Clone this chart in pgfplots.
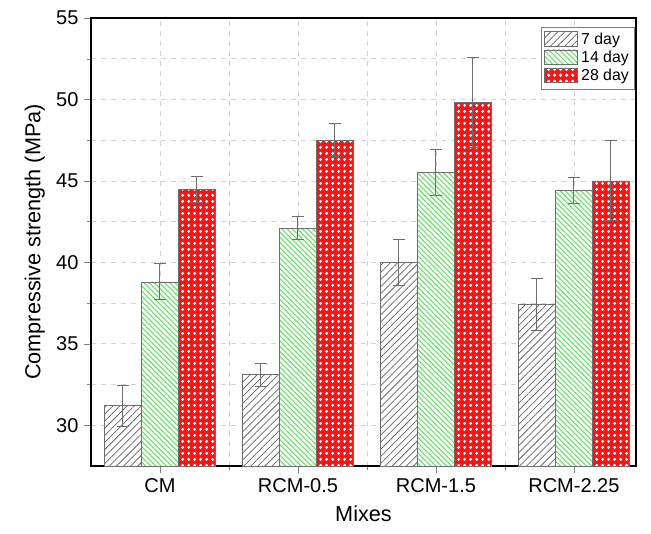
\documentclass[border=0pt]{standalone}
\usepackage{pgfplots}
\pgfplotsset{compat=1.18}
\usepackage{fontspec}
\setmainfont{Liberation Sans}
\usetikzlibrary{patterns,patterns.meta}

\pgfdeclarepattern{
  name=wdots, type=uncolored,
  bottom left={\pgfpoint{0pt}{0pt}}, top right={\pgfpoint{3.6pt}{3.6pt}},
  tile size={\pgfpoint{3.6pt}{3.6pt}},
  code={
    \pgfpathcircle{\pgfpoint{1.8pt}{1.8pt}}{1.15pt}
    \pgfusepath{fill}
  }
}

\definecolor{barline}{RGB}{110,110,110}
\definecolor{lgreen}{RGB}{100,225,100}
\definecolor{bred}{RGB}{250,20,20}

% mix  7d  14d  28d with errors
\pgfplotstableread{
x  d7   e7    d14  e14   d28  e28
1  31.2 1.25  38.8 1.1   44.5 0.8
2  33.1 0.7   42.1 0.7   47.5 1.0
3  40.0 1.4   45.5 1.4   49.8 2.75
4  37.4 1.6   44.4 0.8   45.0 2.45
}\datatable

\begin{document}
\begin{tikzpicture}
\begin{axis}[
  scale only axis,
  width=327pt, height=268.8pt,
  ybar=0pt, bar width=22.2pt,
  xmin=0.5, xmax=4.45,
  ymin=27.5, ymax=55,
  xtick={1,2,3,4},
  xticklabels={CM,RCM-0.5,RCM-1.5,RCM-2.25},
  minor xtick={1.5,2.5,3.5},
  ytick={30,35,...,55},
  minor y tick num=1,
  tick pos=left,
  tick align=outside,
  major tick length=4pt, minor tick length=2.5pt,
  grid=both,
  major grid style={dashed, gray!35},
  minor grid style={dashed, gray!35},
  axis line style={black, line width=0.8pt},
  /pgf/number format/assume math mode=true,
  ticklabel style={font=\fontsize{12}{14}\selectfont},
  xlabel={Mixes},
  ylabel={Compressive strength (MPa)},
  label style={font=\fontsize{13}{15}\selectfont},
  xlabel style={yshift=-1pt},
  legend style={at={(0.998,0.98)}, anchor=north east, draw=gray,
    font=\fontsize{9.5}{11}\selectfont, row sep=-1.5pt, inner sep=1.5pt,
    legend cell align=left},
  legend image code/.code={\draw[#1] (0pt,-3.5pt) rectangle (20pt,5pt);},
  error bars/y dir=both,
  error bars/y explicit,
  error bars/error bar style={barline, line width=0.6pt},
  error bars/error mark options={barline, rotate=90, mark size=3.5pt, line width=0.6pt},
]
\addplot[draw=barline, fill=white,
  postaction={pattern={Lines[angle=45, distance=3pt, line width=0.45pt]}, pattern color=gray!80!black}]
  table[x=x, y=d7, y error=e7] {\datatable};
\addplot[draw=barline, fill=white,
  postaction={pattern={Lines[angle=-45, distance=2.2pt, line width=0.65pt]}, pattern color=lgreen}]
  table[x=x, y=d14, y error=e14] {\datatable};
\addplot[draw=barline, fill=bred,
  postaction={pattern=wdots, pattern color=white}]
  table[x=x, y=d28, y error=e28] {\datatable};
\legend{7 day, 14 day, 28 day}
\end{axis}
\path (current axis.south west) ++(-91*0.6pt,-67*0.6pt) rectangle ++(651*0.6pt,533*0.6pt);
\end{tikzpicture}
\end{document}
